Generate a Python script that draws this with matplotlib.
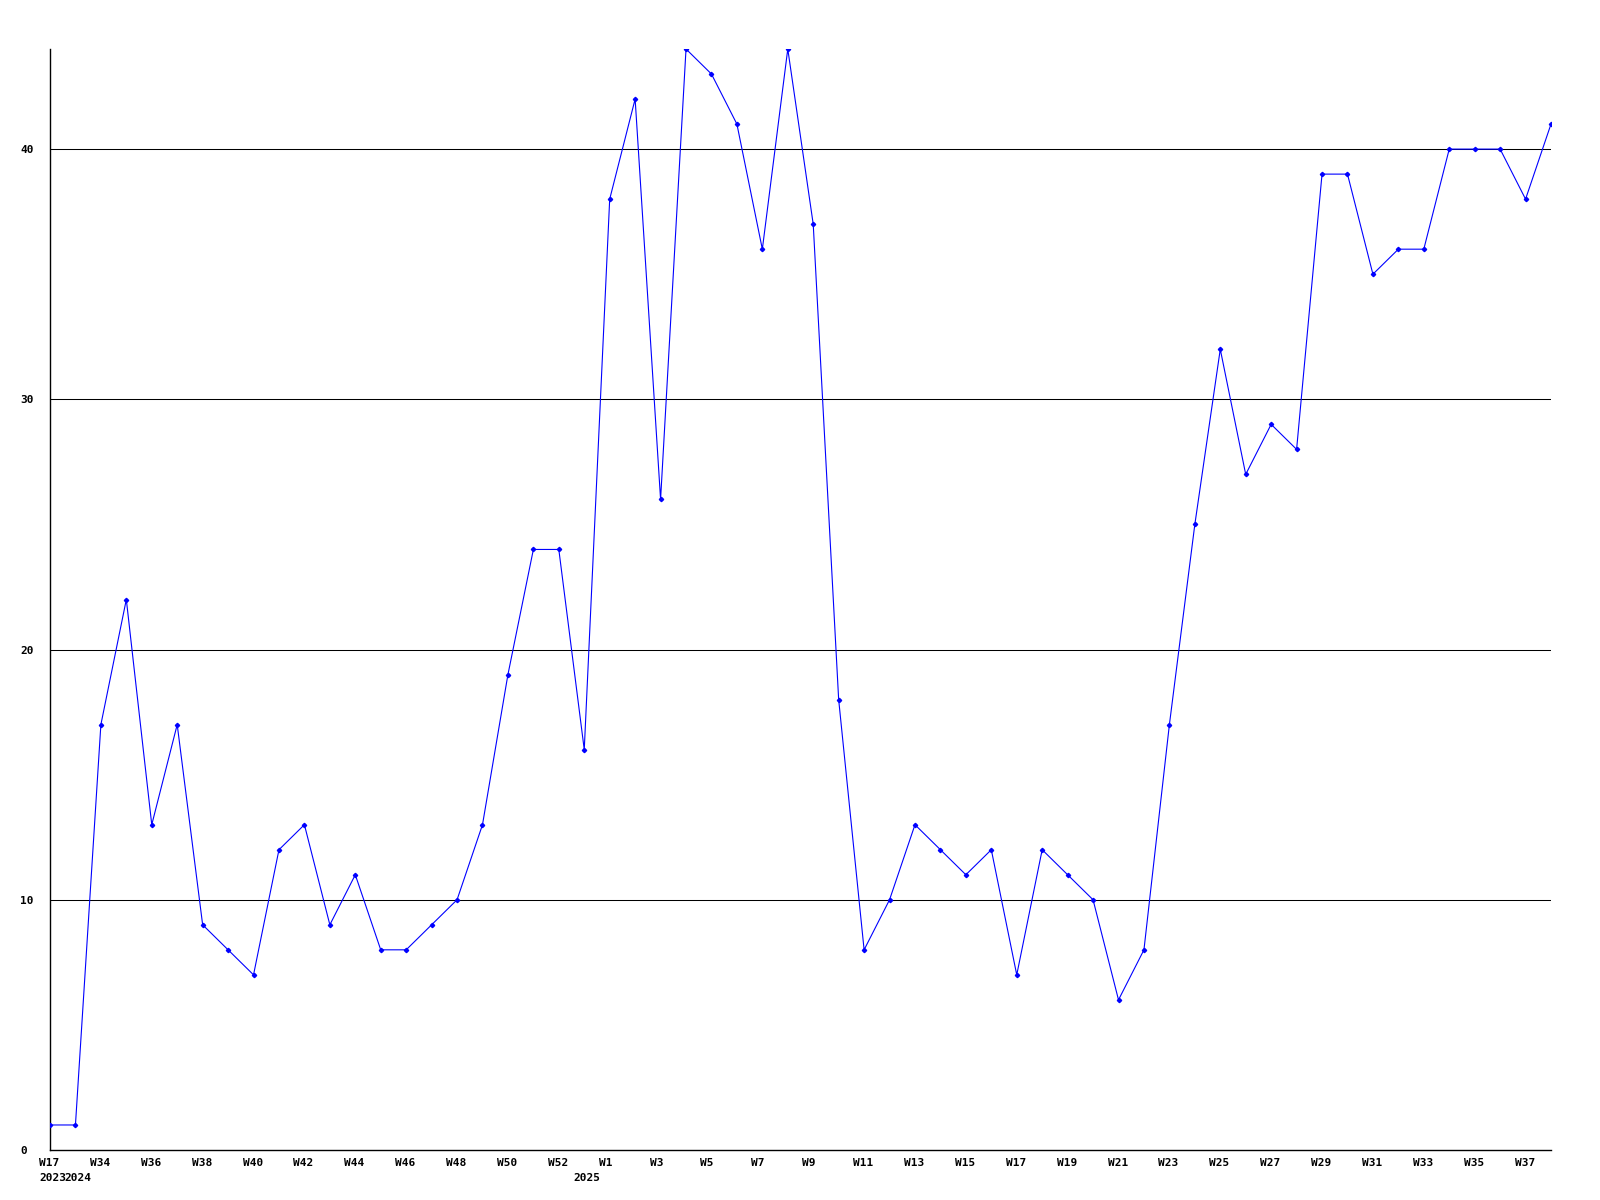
import matplotlib.pyplot as plt
from matplotlib.transforms import ScaledTranslation, blended_transform_factory

# Weekly counts
weeks = ['W17', 'W33', 'W34', 'W35', 'W36', 'W37', 'W38', 'W39', 'W40', 'W41',
         'W42', 'W43', 'W44', 'W45', 'W46', 'W47', 'W48', 'W49', 'W50', 'W51',
         'W52', 'W53', 'W1', 'W2', 'W3', 'W4', 'W5', 'W6', 'W7', 'W8',
         'W9', 'W10', 'W11', 'W12', 'W13', 'W14', 'W15', 'W16', 'W17', 'W18',
         'W19', 'W20', 'W21', 'W22', 'W23', 'W24', 'W25', 'W26', 'W27', 'W28',
         'W29', 'W30', 'W31', 'W32', 'W33', 'W34', 'W35', 'W36', 'W37', 'W38']
values = [1, 1, 17, 22, 13, 17, 9, 8, 7, 12,
          13, 9, 11, 8, 8, 9, 10, 13, 19, 24,
          24, 16, 38, 42, 26, 44, 43, 41, 36, 44,
          37, 18, 8, 10, 13, 12, 11, 12, 7, 12,
          11, 10, 6, 8, 17, 25, 32, 27, 29, 28,
          39, 39, 35, 36, 36, 40, 40, 40, 38, 41]
# year labels: (index of first week in that year, label)
year_pos = [0, 1, 21]
year_names = ['2023', '2024', '2025']

x = list(range(len(values)))

fig = plt.figure(figsize=(16, 12), dpi=100)
ax = fig.add_axes([50 / 1600, 50 / 1200, 1501 / 1600, 1101 / 1200])

font = dict(family='DejaVu Sans Mono', weight='bold', size=8)

ax.plot(x, values, color='blue', linewidth=0.8, marker='D', markersize=2.2,
        zorder=3)

ax.set_xlim(0, len(values) - 1)
ax.set_ylim(0, 44)

# horizontal grid lines
for v in [10, 20, 30, 40]:
    ax.axhline(v, color='black', linewidth=0.75, zorder=1)

for side in ['top', 'right']:
    ax.spines[side].set_visible(False)
for side in ['left', 'bottom']:
    ax.spines[side].set_linewidth(1.0)

ax.set_yticks([0, 10, 20, 30, 40])
ax.set_yticklabels(['0', '10', '20', '30', '40'], **font)
ax.tick_params(axis='y', length=0, pad=21.6)
for lab in ax.get_yticklabels():
    lab.set_horizontalalignment('left')

ticks = x[::2]
ax.set_xticks(ticks)
ax.set_xticklabels([weeks[i] for i in ticks], **font)
ax.tick_params(axis='x', length=0, pad=5.5)
shift = ScaledTranslation(-11 / 100, 0, fig.dpi_scale_trans)
for lab in ax.get_xticklabels():
    lab.set_horizontalalignment('left')
    lab.set_transform(lab.get_transform() + shift)

trans = blended_transform_factory(ax.transData, ax.transAxes)
for i, name in zip(year_pos, year_names):
    ax.text(i, 0, name, transform=trans + ScaledTranslation(-11 / 100, -23 / 100, fig.dpi_scale_trans),
            ha='left', va='top', **font)

fig.savefig('out.png', dpi=100)
